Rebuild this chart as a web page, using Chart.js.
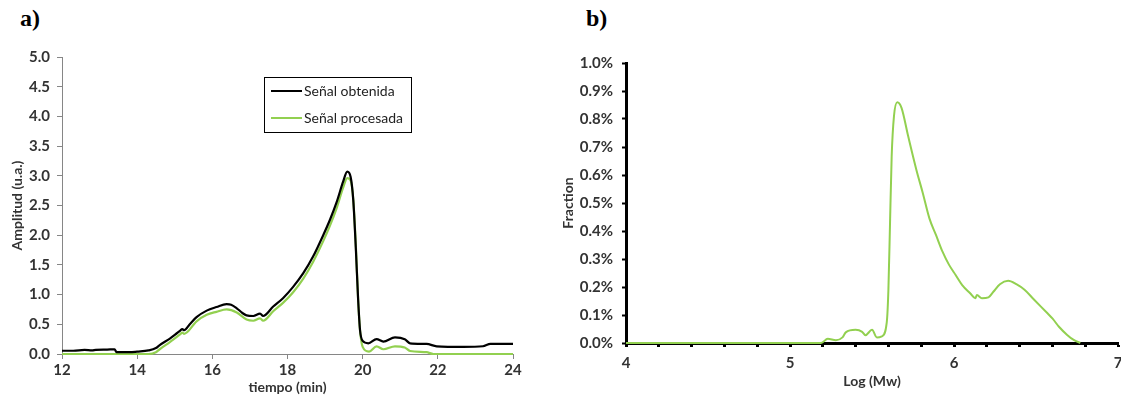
<!DOCTYPE html>
<html>
<head>
<meta charset="utf-8">
<script src="https://cdn.jsdelivr.net/npm/chart.js@4.4.0/dist/chart.umd.min.js"></script>
<style>
    body { margin: 0; background: #fff; width: 1121px; height: 396px; overflow: hidden; position: relative; }
    .panel { position: absolute; font-family: "Liberation Serif", serif; font-weight: bold; font-size: 24px; color: #000; }
    #chartA { position: absolute; left: 0; top: 0; }
    #chartB { position: absolute; left: 560px; top: 0; }
</style>
</head>
<body>
<div class="panel" style="left:20px; top:5px;">a)</div>
<div class="panel" style="left:586px; top:5px;">b)</div>
<canvas id="chartA" width="560" height="396"></canvas>
<canvas id="chartB" width="561" height="396"></canvas>
<script>
// a) Señal obtenida (tiempo en min, amplitud u.a.)
const tiempoObt = [12.0, 12.3, 12.6, 12.8, 12.9, 13.2, 13.4, 13.45, 13.8, 14.0, 14.3, 14.5, 14.6, 14.87, 15.0, 15.14, 15.2, 15.25,
    15.4, 15.58, 15.85, 16.11, 16.38, 16.5, 16.65, 16.8, 16.91, 17.09, 17.27, 17.35, 17.62, 17.88, 18.15, 18.42, 18.68, 18.95,
    19.13, 19.31, 19.48, 19.59, 19.68, 19.75, 19.82, 19.88, 19.93, 20.0, 20.15, 20.37, 20.55, 20.86, 21.12, 21.26, 21.7,
    21.97, 22.68, 23.2, 23.4, 24.0];
const senalObtenida = [0.055, 0.055, 0.07, 0.06, 0.07, 0.075, 0.08, 0.03, 0.03, 0.04, 0.06, 0.10, 0.15, 0.26, 0.32, 0.39, 0.42, 0.40,
    0.50, 0.62, 0.73, 0.79, 0.84, 0.83, 0.77, 0.69, 0.65, 0.64, 0.68, 0.64, 0.80, 0.94, 1.13, 1.36, 1.64, 2.00,
    2.26, 2.56, 2.90, 3.07, 2.98, 2.59, 1.75, 0.91, 0.40, 0.22, 0.18, 0.25, 0.21, 0.28, 0.25, 0.18, 0.17,
    0.13, 0.12, 0.13, 0.17, 0.17];

// a) Señal procesada
const tiempoProc = [12.0, 14.3, 14.5, 14.6, 14.87, 15.14, 15.2, 15.25, 15.58, 15.85, 16.11, 16.38, 16.65, 16.91, 17.09, 17.27,
    17.35, 17.62, 17.88, 18.15, 18.42, 18.68, 18.95, 19.13, 19.31, 19.48, 19.59, 19.68, 19.75, 19.82, 19.88, 19.93,
    20.0, 20.17, 20.37, 20.55, 20.86, 21.12, 21.26, 21.7, 21.88, 24.0];
const senalProcesada = [0, 0, 0.03, 0.08, 0.20, 0.33, 0.36, 0.34, 0.55, 0.66, 0.71, 0.75, 0.70, 0.58, 0.56, 0.60,
    0.56, 0.72, 0.86, 1.04, 1.27, 1.55, 1.90, 2.16, 2.46, 2.80, 2.96, 2.92, 2.60, 1.80, 0.90, 0.40,
    0.12, 0.04, 0.13, 0.08, 0.13, 0.11, 0.05, 0.03, 0, 0];

// b) distribución de pesos moleculares
const logMw = [4.0, 5.19, 5.23, 5.28, 5.32, 5.34, 5.40, 5.44, 5.46, 5.50, 5.53, 5.56, 5.59, 5.60, 5.61, 5.62, 5.634, 5.654,
    5.68, 5.72, 5.77, 5.81, 5.85, 5.89, 5.93, 5.97, 6.01, 6.05, 6.10, 6.13, 6.14, 6.17, 6.21, 6.24, 6.28, 6.33,
    6.38, 6.43, 6.48, 6.53, 6.57, 6.60, 6.64, 6.69, 6.73, 6.77];
const fraction = [0, 0, 0.015, 0.01, 0.02, 0.038, 0.047, 0.04, 0.028, 0.047, 0.02, 0.024, 0.074, 0.19, 0.43, 0.667, 0.81, 0.86,
    0.84, 0.74, 0.62, 0.535, 0.445, 0.386, 0.326, 0.279, 0.243, 0.207, 0.177, 0.16, 0.171, 0.16, 0.163, 0.183, 0.21, 0.222,
    0.21, 0.19, 0.16, 0.13, 0.106, 0.088, 0.058, 0.029, 0.011, 0];

const GREEN = '#92D050';
const FONT = 'Lato, "Open Sans", sans-serif';

const toPoints = (xs, ys) => xs.map((x, i) => ({ x: x, y: ys[i] }));

// legend box drawn inside the plot, like the original
const legendBox = {
    id: 'legendBox',
    afterDraw(chart) {
        const ctx = chart.ctx;
        ctx.save();
        ctx.fillStyle = '#fff';
        ctx.fillRect(264, 77, 147, 55);
        ctx.strokeStyle = '#000';
        ctx.lineWidth = 1;
        ctx.strokeRect(264.5, 77.5, 147, 55);
        ctx.font = '14px ' + FONT;
        ctx.textBaseline = 'middle';
        chart.data.datasets.forEach((ds, i) => {
            const y = 91 + i * 27;
            ctx.strokeStyle = ds.borderColor;
            ctx.lineWidth = 2;
            ctx.beginPath();
            ctx.moveTo(271, y);
            ctx.lineTo(302, y);
            ctx.stroke();
            ctx.fillStyle = '#222';
            ctx.fillText(ds.label, 304, y);
        });
        ctx.restore();
    }
};

const ctxA = document.getElementById('chartA').getContext('2d');
new Chart(ctxA, {
    type: 'line',
    data: {
        datasets: [{
            label: 'Señal obtenida',
            data: toPoints(tiempoObt, senalObtenida),
            borderColor: '#000',
            borderWidth: 2.2,
            pointRadius: 0,
            tension: 0.3,
            cubicInterpolationMode: 'monotone',
            clip: 4
        }, {
            label: 'Señal procesada',
            data: toPoints(tiempoProc, senalProcesada),
            borderColor: GREEN,
            borderWidth: 2.2,
            pointRadius: 0,
            tension: 0.3,
            cubicInterpolationMode: 'monotone',
            clip: 4
        }]
    },
    options: {
        responsive: false,
        animation: false,
        layout: { padding: { top: 57, right: 47, left: 0, bottom: 0 } },
        plugins: { legend: { display: false }, tooltip: { enabled: false } },
        scales: {
            x: {
                type: 'linear',
                min: 12,
                max: 24,
                ticks: { stepSize: 2, color: '#333', padding: 2, maxRotation: 0, font: { family: FONT, size: 15, weight: 'bold' } },
                grid: { drawOnChartArea: false, tickLength: 5, color: '#868686' },
                border: { color: '#868686', width: 1 },
                title: { display: true, text: 'tiempo (min)', color: '#333', padding: { top: 0, bottom: 0 }, font: { family: FONT, size: 14, weight: 'bold' } },
                afterFit: s => { s.height = 42; s.paddingLeft = 0; s.paddingRight = 0; }
            },
            y: {
                min: 0,
                max: 5,
                ticks: { stepSize: 0.5, color: '#333', padding: 7, callback: v => v.toFixed(1), font: { family: FONT, size: 15, weight: 'bold' } },
                grid: { drawOnChartArea: false, tickLength: 5, color: '#868686' },
                border: { color: '#868686', width: 1 },
                title: { display: true, text: 'Amplitud (u.a.)', color: '#333', padding: { top: 9, bottom: 0 }, font: { family: FONT, size: 14, weight: 'bold' } },
                afterFit: s => { s.width = 62; }
            }
        }
    },
    plugins: [legendBox]
});

const ctxB = document.getElementById('chartB').getContext('2d');
new Chart(ctxB, {
    type: 'line',
    data: {
        datasets: [{
            label: 'Fraction',
            data: toPoints(logMw, fraction),
            borderColor: GREEN,
            borderWidth: 2,
            pointRadius: 0,
            tension: 0.3,
            cubicInterpolationMode: 'monotone',
            clip: 4
        }]
    },
    options: {
        responsive: false,
        animation: false,
        layout: { padding: { top: 63, right: 3, left: 0, bottom: 0 } },
        plugins: { legend: { display: false }, tooltip: { enabled: false } },
        scales: {
            x: {
                type: 'linear',
                min: 4,
                max: 7,
                ticks: {
                    stepSize: 0.2,
                    autoSkip: false,
                    color: '#333',
                    padding: 7,
                    maxRotation: 0,
                    font: { family: FONT, size: 15, weight: 'bold' },
                    callback: v => Math.abs(v - Math.round(v)) < 1e-6 ? String(Math.round(v)) : ''
                },
                grid: { drawOnChartArea: false, tickLength: 4, tickWidth: 3, color: '#000' },
                border: { color: '#000', width: 3 },
                title: { display: true, text: 'Log (Mw)', color: '#333', padding: { top: 0, bottom: 6 }, font: { family: FONT, size: 14, weight: 'bold' } },
                afterFit: s => { s.height = 53; s.paddingLeft = 0; s.paddingRight = 0; }
            },
            y: {
                min: 0,
                max: 1,
                ticks: { stepSize: 0.1, color: '#333', padding: 9, callback: v => v.toFixed(1) + '%', font: { family: FONT, size: 15, weight: 'bold' } },
                grid: { drawOnChartArea: false, tickLength: 4, tickWidth: 2, color: '#000' },
                border: { color: '#000', width: 3 },
                title: { display: true, text: 'Fraction', color: '#333', padding: { top: 0, bottom: 0 }, font: { family: FONT, size: 14, weight: 'bold' } },
                afterFit: s => { s.width = 66; }
            }
        }
    }
});
</script>
</body>
</html>
